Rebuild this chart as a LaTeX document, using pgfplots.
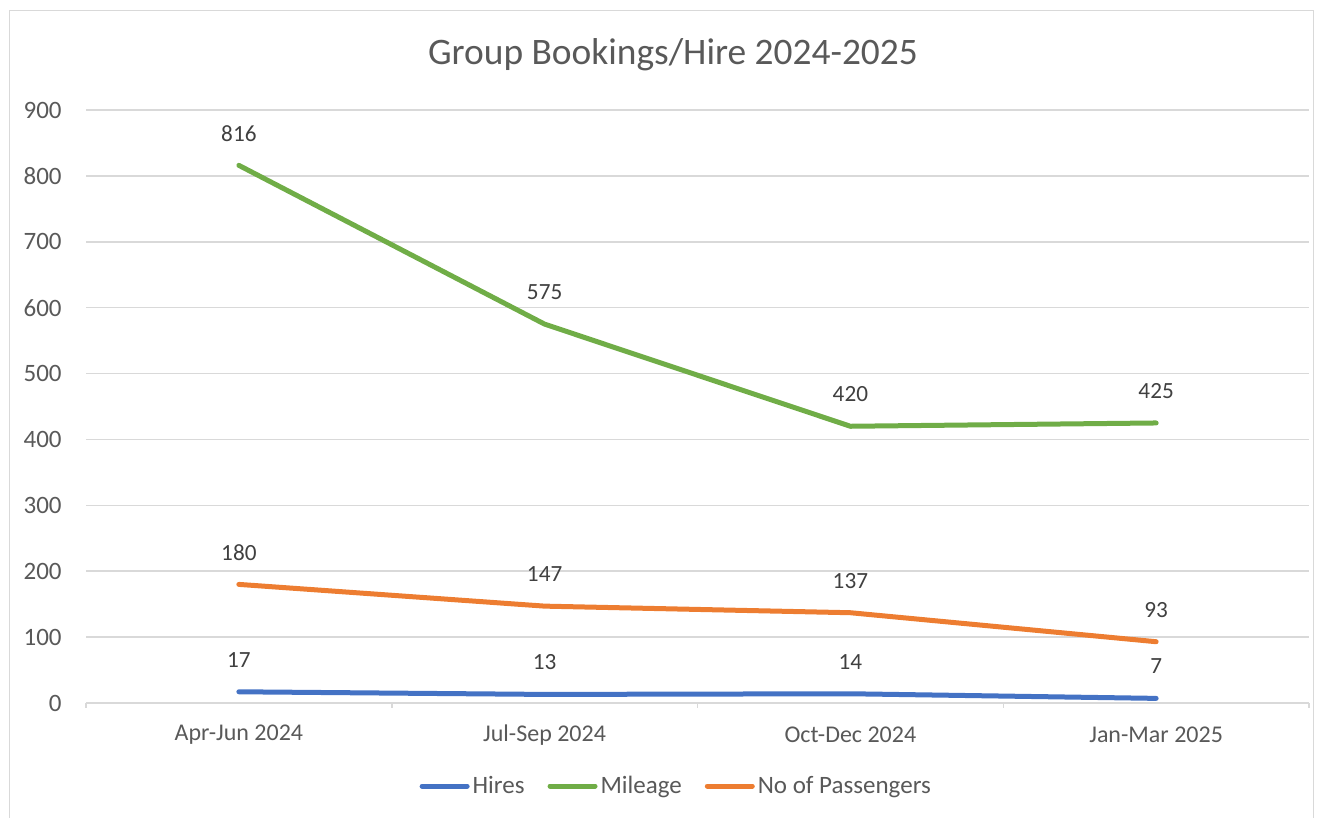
\documentclass[border=0pt]{standalone}
\usepackage{pgfplots}
\pgfplotsset{compat=1.18}
\usepackage{fontspec}
\setmainfont{Carlito}
\definecolor{txt}{HTML}{595959}
\definecolor{lbl}{HTML}{404040}
\definecolor{gridc}{HTML}{D9D9D9}
\definecolor{cblue}{HTML}{4472C4}
\definecolor{cgreen}{HTML}{70AD47}
\definecolor{corange}{HTML}{ED7D31}
\begin{document}
\begin{tikzpicture}[x=1pt,y=1pt]
\path[use as bounding box] (0,0) rectangle (662,409);
\draw[color=gridc, line width=0.75pt] (4.75,-5) rectangle (656.75,403.75);
\node[text=txt, font=\fontsize{18.7}{22}\selectfont] at (336.5,381.5) {Group Bookings/Hire 2024-2025};
\begin{axis}[
  at={(43pt,57.5pt)}, anchor=south west,
  width=611.5pt, height=296.5pt, scale only axis,
  xmin=-0.5, xmax=3.5, ymin=0, ymax=900,
  ytick={0,100,...,900},
  xtick={0,1,2,3},
  xticklabels={Apr-Jun 2024,Jul-Sep 2024,Oct-Dec 2024,Jan-Mar 2025},
  minor xtick={-0.5,0.5,1.5,2.5,3.5},
  axis line style={draw=none},
  ymajorgrids, grid style={gridc, line width=0.75pt},
  major tick length=0pt, minor tick length=2.5pt,
  tick align=outside, xtick pos=lower, ytick pos=left,
  minor tick style={gridc, line width=0.75pt},
  major tick style={draw=none},
  tick label style={font=\fontsize{12}{14}\selectfont, text=txt},
  /pgf/number format/assume math mode=true,
  yticklabel style={anchor=east, inner sep=0pt, xshift=-12pt, font=\fontsize{12.5}{14}\selectfont},
  xticklabel style={anchor=center, inner sep=0pt, yshift=-16pt},
  legend style={at={(0.483,-0.14)}, anchor=center, draw=none, fill=none,
    legend columns=3, font=\fontsize{12.5}{15}\selectfont, text=txt,
    nodes={inner xsep=1.5pt},
    /tikz/every even column/.append style={column sep=10pt}},
  legend image code/.code={\draw[#1, line width=2.5pt, line cap=round] (1.25pt,0pt) -- (23.75pt,0pt);},
  nodes near coords,
  every node near coord/.append style={anchor=center, yshift=16pt, font=\fontsize{11.6}{14}\selectfont, text=lbl},
  every axis plot/.append style={line width=2.5pt, line cap=round, line join=round, no marks},
]
\addplot[cblue] coordinates {(0,17) (1,13) (2,14) (3,7)};
\addlegendentry{Hires}
\addplot[cgreen] coordinates {(0,816) (1,575) (2,420) (3,425)};
\addlegendentry{Mileage}
\addplot[corange] coordinates {(0,180) (1,147) (2,137) (3,93)};
\addlegendentry{No of Passengers}
\end{axis}
\end{tikzpicture}
\end{document}
